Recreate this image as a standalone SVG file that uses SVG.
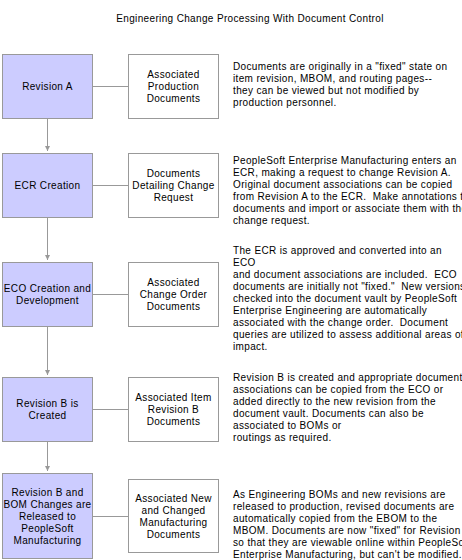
<svg xmlns="http://www.w3.org/2000/svg" width="462" height="560" viewBox="0 0 462 560" xml:space="preserve">
<style>
text{font-family:"Liberation Sans",Arial,sans-serif;font-size:10px;letter-spacing:0.35px;fill:#000;white-space:pre}
.c{text-anchor:middle}
.main{fill:#ccccff;stroke:#999999;stroke-width:1}
.doc{fill:#ffffff;stroke:#999999;stroke-width:1}
.ln{stroke:#999999;stroke-width:1;fill:none}
</style>
<defs>
<marker id="ah" markerWidth="6" markerHeight="6" refX="5" refY="3" orient="auto" markerUnits="userSpaceOnUse">
<path d="M0,0.5 L5,3 L0,5.5 Z" fill="#999999"/>
</marker>
</defs>
<rect width="462" height="560" fill="#ffffff"/>
<text id="title" x="250" y="22" class="c">Engineering Change Processing With Document Control</text>
<g id="connectors">
<line class="ln" x1="92.5" y1="86.5" x2="128.5" y2="86.5"/>
<line class="ln" x1="92.5" y1="185.5" x2="128.5" y2="185.5"/>
<line class="ln" x1="92.5" y1="294.5" x2="128.5" y2="294.5"/>
<line class="ln" x1="92.5" y1="409.5" x2="128.5" y2="409.5"/>
<line class="ln" x1="92.5" y1="516.5" x2="128.5" y2="516.5"/>
<line class="ln" x1="47.5" y1="118" x2="47.5" y2="151" marker-end="url(#ah)"/>
<line class="ln" x1="47.5" y1="217" x2="47.5" y2="260" marker-end="url(#ah)"/>
<line class="ln" x1="47.5" y1="326" x2="47.5" y2="375" marker-end="url(#ah)"/>
<line class="ln" x1="47.5" y1="441" x2="47.5" y2="471" marker-end="url(#ah)"/>
</g>
<g id="revA">
<rect class="main" x="2.5" y="54.5" width="90" height="64"/>
<text x="47.5" y="90" class="c">Revision A</text>
</g>
<g id="docA">
<rect class="doc" x="128.5" y="54.5" width="90" height="64"/>
<text x="173.5" y="78" class="c">Associated</text>
<text x="173.5" y="90" class="c">Production</text>
<text x="173.5" y="102" class="c">Documents</text>
</g>
<g id="noteA">
<text x="233" y="70">Documents are originally in a "fixed" state on</text>
<text x="233" y="82">item revision, MBOM, and routing pages--</text>
<text x="233" y="94">they can be viewed but not modified by</text>
<text x="233" y="106">production personnel.</text>
</g>
<g id="ecr">
<rect class="main" x="2.5" y="153.5" width="90" height="64"/>
<text x="47.5" y="189" class="c">ECR Creation</text>
</g>
<g id="docECR">
<rect class="doc" x="128.5" y="153.5" width="90" height="64"/>
<text x="173.5" y="177" class="c">Documents</text>
<text x="173.5" y="189" class="c">Detailing Change</text>
<text x="173.5" y="201" class="c">Request</text>
</g>
<g id="noteECR">
<text x="233" y="164">PeopleSoft Enterprise Manufacturing enters an</text>
<text x="233" y="176">ECR, making a request to change Revision A.</text>
<text x="233" y="188">Original document associations can be copied</text>
<text x="233" y="200">from Revision A to the ECR.  Make annotations to</text>
<text x="233" y="212">documents and import or associate them with the</text>
<text x="233" y="224">change request.</text>
</g>
<g id="eco">
<rect class="main" x="2.5" y="262.5" width="90" height="64"/>
<text x="47.5" y="292" class="c">ECO Creation and</text>
<text x="47.5" y="304" class="c">Development</text>
</g>
<g id="docECO">
<rect class="doc" x="128.5" y="262.5" width="90" height="64"/>
<text x="173.5" y="286" class="c">Associated</text>
<text x="173.5" y="298" class="c">Change Order</text>
<text x="173.5" y="310" class="c">Documents</text>
</g>
<g id="noteECO">
<text x="233" y="254">The ECR is approved and converted into an</text>
<text x="233" y="266">ECO</text>
<text x="233" y="278">and document associations are included.  ECO</text>
<text x="233" y="290">documents are initially not "fixed."  New versions</text>
<text x="233" y="302">checked into the document vault by PeopleSoft</text>
<text x="233" y="314">Enterprise Engineering are automatically</text>
<text x="233" y="326">associated with the change order.  Document</text>
<text x="233" y="338">queries are utilized to assess additional areas of</text>
<text x="233" y="350">impact.</text>
</g>
<g id="revB">
<rect class="main" x="2.5" y="377.5" width="90" height="64"/>
<text x="47.5" y="407" class="c">Revision B is</text>
<text x="47.5" y="419" class="c">Created</text>
</g>
<g id="docRevB">
<rect class="doc" x="128.5" y="377.5" width="90" height="64"/>
<text x="173.5" y="401" class="c">Associated Item</text>
<text x="173.5" y="413" class="c">Revision B</text>
<text x="173.5" y="425" class="c">Documents</text>
</g>
<g id="noteRevB">
<text x="233" y="381">Revision B is created and appropriate document</text>
<text x="233" y="393">associations can be copied from the ECO or</text>
<text x="233" y="405">added directly to the new revision from the</text>
<text x="233" y="417">document vault. Documents can also be</text>
<text x="233" y="429">associated to BOMs or</text>
<text x="233" y="441">routings as required.</text>
</g>
<g id="release">
<rect class="main" x="2.5" y="473.5" width="90" height="85"/>
<text x="47.5" y="496" class="c">Revision B and</text>
<text x="47.5" y="508" class="c">BOM Changes are</text>
<text x="47.5" y="520" class="c">Released to</text>
<text x="47.5" y="532" class="c">PeopleSoft</text>
<text x="47.5" y="544" class="c">Manufacturing</text>
</g>
<g id="docRelease">
<rect class="doc" x="128.5" y="479.5" width="90" height="73"/>
<text x="173.5" y="502" class="c">Associated New</text>
<text x="173.5" y="514" class="c">and Changed</text>
<text x="173.5" y="526" class="c">Manufacturing</text>
<text x="173.5" y="538" class="c">Documents</text>
</g>
<g id="noteRelease">
<text x="233" y="498">As Engineering BOMs and new revisions are</text>
<text x="233" y="510">released to production, revised documents are</text>
<text x="233" y="522">automatically copied from the EBOM to the</text>
<text x="233" y="534">MBOM. Documents are now "fixed" for Revision B</text>
<text x="233" y="546">so that they are viewable online within PeopleSoft</text>
<text x="233" y="558">Enterprise Manufacturing, but can't be modified.</text>
</g>
</svg>
